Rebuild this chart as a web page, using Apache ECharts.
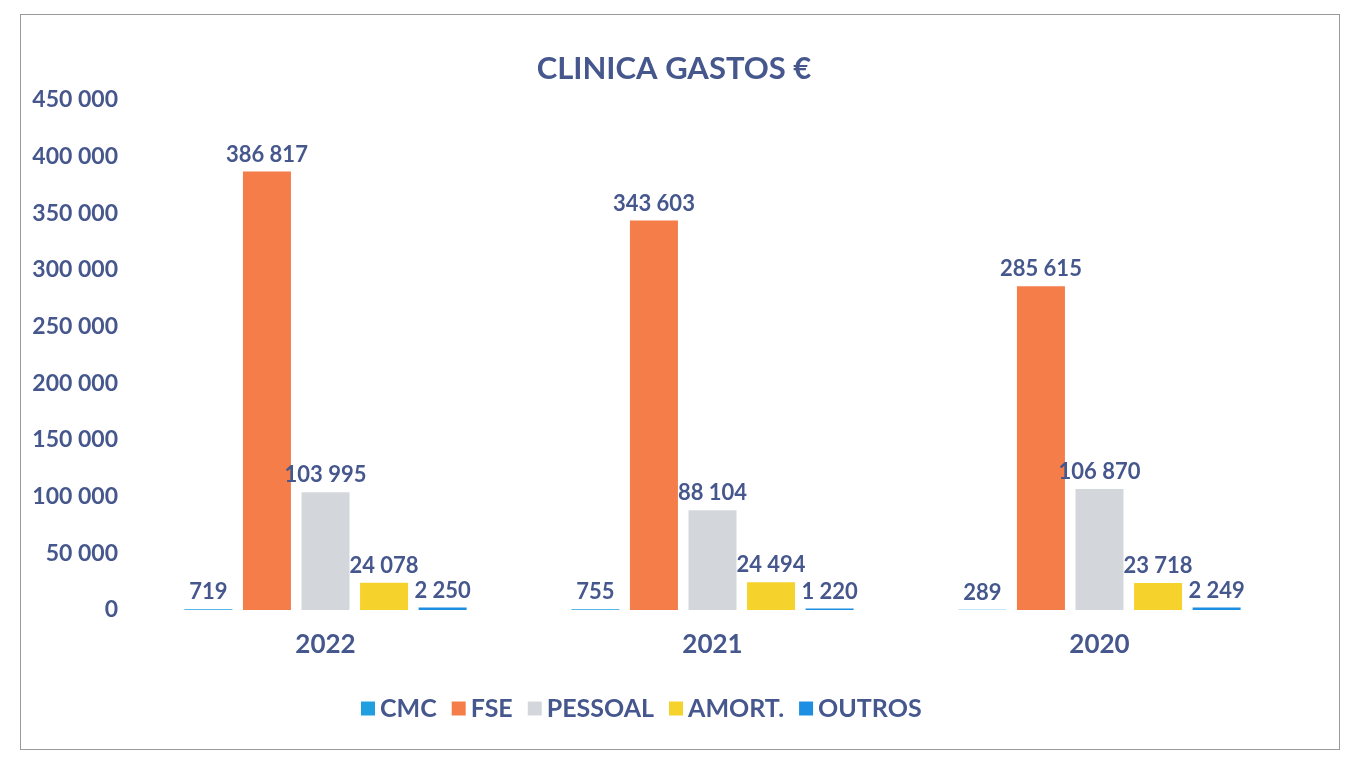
<!DOCTYPE html>
<html lang="pt">
<head>
    <meta charset="UTF-8">
    <title>Clinica Gastos</title>
    <script type="text/javascript" src="https://cdn.jsdelivr.net/npm/echarts@6/dist/echarts.min.js"></script>
    <style>
        html, body { margin: 0; padding: 0; background: #fff; }
        #frame { position: absolute; left: 20px; top: 14px; width: 1318px; height: 734px; border: 1px solid #9a9a9a; }
        #main { position: absolute; left: 0; top: 0; width: 1348px; height: 766px; }
    </style>
</head>
<body>
<div id="frame"></div>
<div id="main"></div>

<script type="text/javascript">
    var years = ['2022', '2021', '2020'];
    var cmc = [719, 755, 289];
    var fse = [386817, 343603, 285615];
    var pessoal = [103995, 88104, 106870];
    var amort = [24078, 24494, 23718];
    var outros = [2250, 1220, 2249];

    var textColor = '#45578c';
    var fontName = 'Lato, "Open Sans", sans-serif';

    // separador de milhares com espaço
    function fmt(v) {
        return String(v).replace(/\B(?=(\d{3})+(?!\d))/g, ' ');
    }

    function mkSeries(name, data, color) {
        return {
            name: name,
            type: 'bar',
            data: data,
            barWidth: 48,
            barGap: '22%',
            itemStyle: { color: color },
            label: {
                show: true,
                position: 'top',
                distance: 6,
                color: textColor,
                fontFamily: fontName,
                fontWeight: 'bold',
                fontSize: 22,
                formatter: function (p) { return fmt(p.value); }
            }
        };
    }

    var myChart = echarts.init(document.getElementById('main'));
    var option = {
        animation: false,
        title: {
            text: 'CLINICA GASTOS €',
            left: 'center',
            top: 48,
            textStyle: { color: textColor, fontFamily: fontName, fontWeight: 'bold', fontSize: 31 }
        },
        legend: {
            bottom: 40,
            left: 356,
            itemWidth: 14,
            itemHeight: 14,
            itemGap: 15,
            icon: 'rect',
            textStyle: { color: textColor, fontFamily: fontName, fontWeight: 'bold', fontSize: 25 }
        },
        grid: { left: 132, right: 55, top: 100, bottom: 156 },
        xAxis: {
            type: 'category',
            data: years,
            axisLine: { show: false },
            axisTick: { show: false },
            axisLabel: { color: textColor, fontFamily: fontName, fontWeight: 'bold', fontSize: 26, margin: 22 }
        },
        yAxis: {
            type: 'value',
            min: 0,
            max: 450000,
            interval: 50000,
            splitLine: { show: false },
            axisLine: { show: false },
            axisLabel: {
                color: textColor, fontFamily: fontName, fontWeight: 'bold', fontSize: 23, margin: 14,
                formatter: function (v) { return fmt(v); }
            }
        },
        series: [
            mkSeries('CMC', cmc, '#1f9fe0'),
            mkSeries('FSE', fse, '#f57d4a'),
            mkSeries('PESSOAL', pessoal, '#d3d7dc'),
            mkSeries('AMORT.', amort, '#f6d22c'),
            mkSeries('OUTROS', outros, '#1c8fe3')
        ]
    };

    option && myChart.setOption(option);
</script>
</body>
</html>
